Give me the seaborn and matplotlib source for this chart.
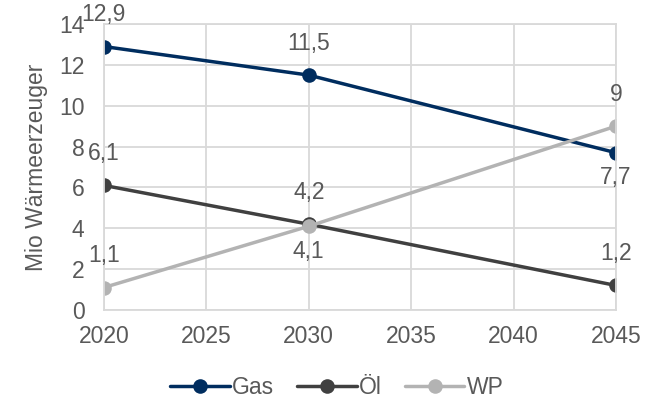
import matplotlib
matplotlib.use("Agg")
import matplotlib.pyplot as plt
import seaborn as sns
import pandas as pd

years = [2020, 2030, 2045]
gas = [12.9, 11.5, 7.7]
oel = [6.1, 4.2, 1.2]
wp = [1.1, 4.1, 9.0]
series_names = ["Gas", "Öl", "WP"]
colors = ["#002D5F", "#404040", "#B3B3B3"]
# label placement per series and point: +1 above, -1 below
label_side = {
    "Gas": [1, 1, -1],
    "Öl": [1, 1, 1],
    "WP": [1, -1, 1],
}
x_ticks = [2020, 2025, 2030, 2035, 2040, 2045]
y_ticks = [0, 2, 4, 6, 8, 10, 12, 14]

sns.set_theme(style="whitegrid")
plt.rcParams["font.family"] = ["Liberation Sans", "DejaVu Sans"]
text_color = "#595959"
fs = 16.5

df = pd.DataFrame({
    "Jahr": years * 3,
    "Wert": gas + oel + wp,
    "Typ": [n for n in series_names for _ in years],
})

fig = plt.figure(figsize=(6.62, 4.01), dpi=100)
ax = fig.add_axes([0.157, 0.227, 0.7735, 0.713])

sns.lineplot(data=df, x="Jahr", y="Wert", hue="Typ", palette=colors,
             marker="o", markersize=10.5, markeredgewidth=0, linewidth=2.5,
             ax=ax, legend=True)

def fmt(v):
    s = f"{v:.1f}".replace(".", ",")
    return s[:-2] if s.endswith(",0") else s

for name, vals in zip(series_names, [gas, oel, wp]):
    for x, v, side in zip(years, vals, label_side[name]):
        ax.annotate(fmt(v), (x, v), xytext=(0, 23 if side > 0 else -18),
                    textcoords="offset points", ha="center", va="center",
                    fontsize=fs, color=text_color)

ax.set_xlim(2020, 2045)
ax.set_ylim(0, 14)
ax.set_xticks(x_ticks)
ax.set_yticks(y_ticks)
ax.tick_params(axis="x", labelsize=fs, labelcolor=text_color, length=0, pad=11)
ax.tick_params(axis="y", labelsize=fs, labelcolor=text_color, length=0, pad=14)
ax.set_xlabel("")
ax.set_ylabel("Mio Wärmeerzeuger", fontsize=fs, color=text_color, labelpad=8)
ax.grid(True, color="#D9D9D9", linewidth=1.3)
for sp in ax.spines.values():
    sp.set_color("#D9D9D9")
    sp.set_linewidth(1.3)
ax.set_facecolor("white")

handles, labels = ax.get_legend_handles_labels()
ax.legend(handles, labels, loc="center", bbox_to_anchor=(0.455, -0.27),
          ncol=3, frameon=False, fontsize=fs, labelcolor=text_color,
          handlelength=2.6, handletextpad=0.1, columnspacing=1.0)

fig.savefig("out.png", dpi=100, facecolor="white")
